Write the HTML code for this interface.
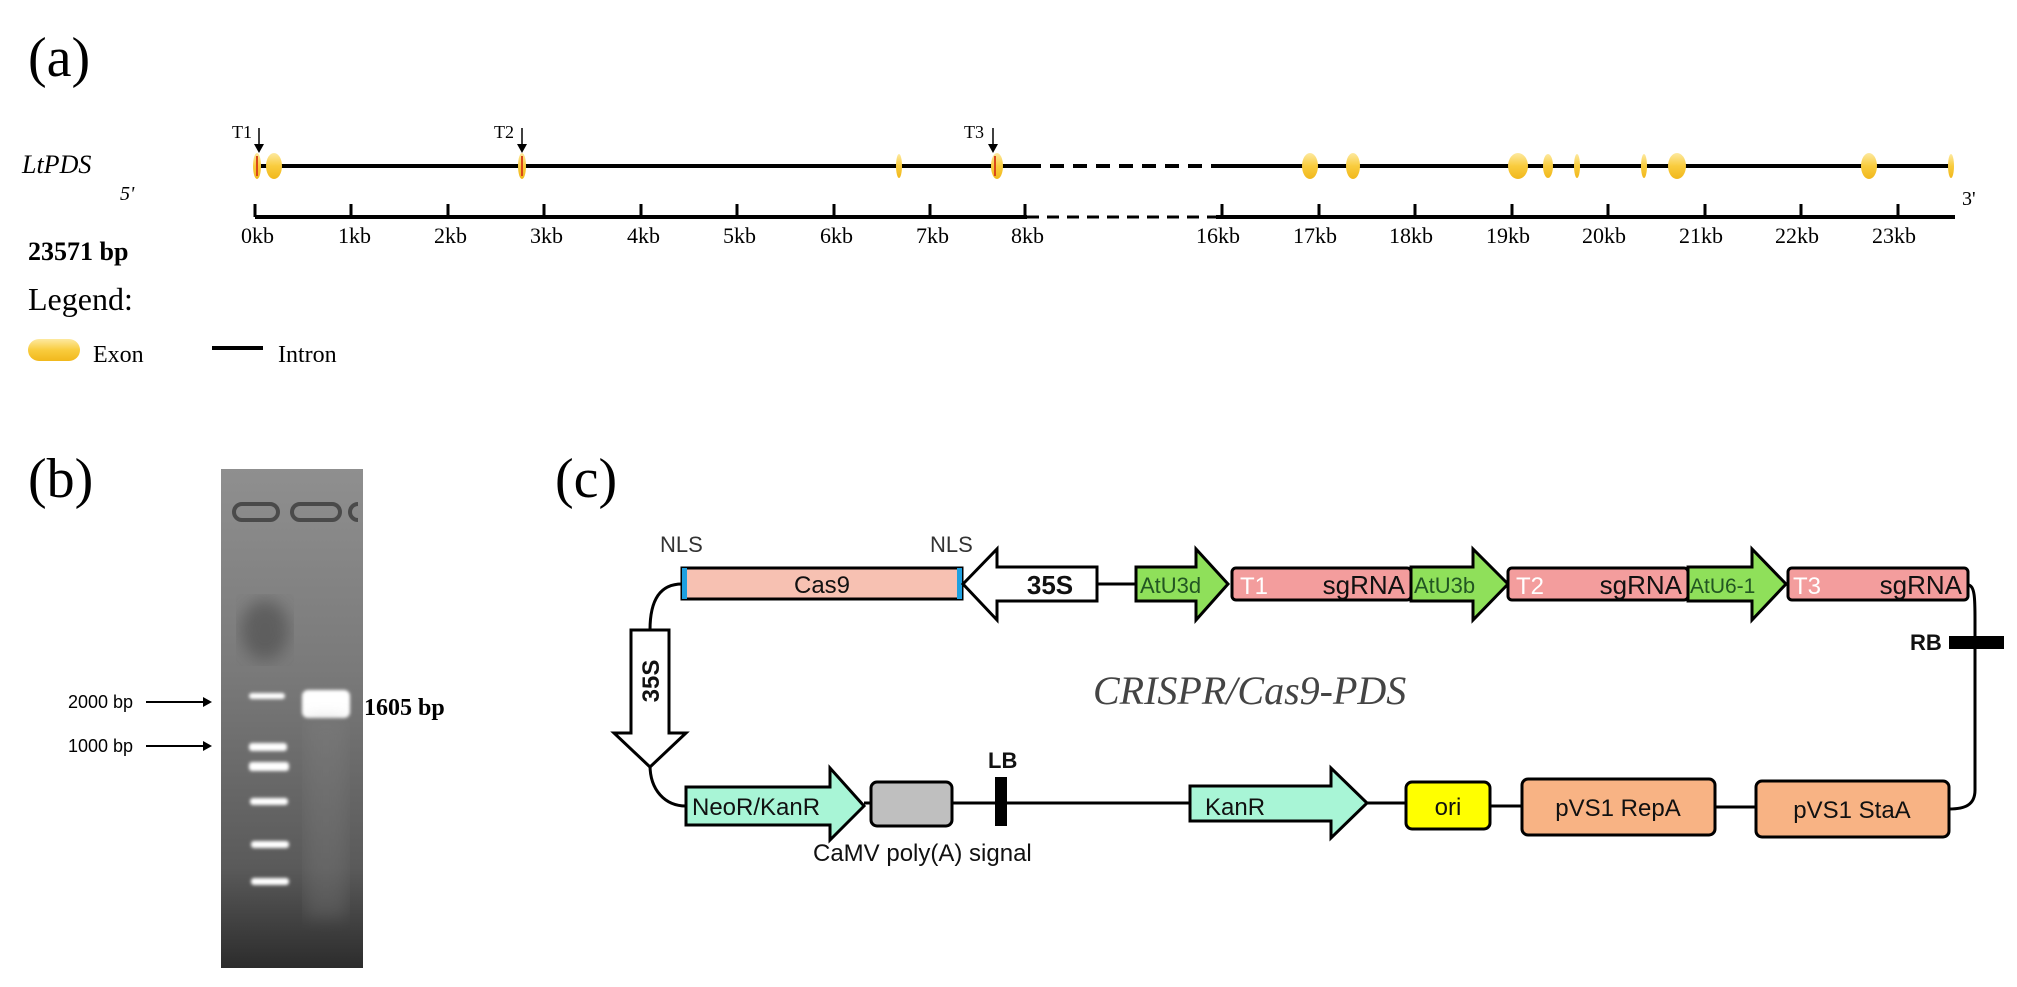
<!DOCTYPE html>
<html><head><meta charset="utf-8"><style>
html,body{margin:0;padding:0;background:#fff}
svg{display:block}
.s{font-family:"Liberation Serif",serif}
.a{font-family:"Liberation Sans",sans-serif}
</style></head><body>
<svg width="2017" height="987" viewBox="0 0 2017 987" xmlns="http://www.w3.org/2000/svg">
<defs>
<linearGradient id="ex" x1="0" y1="0" x2="0" y2="1"><stop offset="0" stop-color="#fde9a0"/><stop offset="0.5" stop-color="#f9cc3e"/><stop offset="1" stop-color="#f1b81c"/></linearGradient>
<linearGradient id="gel" x1="0" y1="0" x2="0" y2="1"><stop offset="0" stop-color="#8f8f8f"/><stop offset="0.4" stop-color="#7a7a7a"/><stop offset="0.8" stop-color="#5a5a5a"/><stop offset="1" stop-color="#2c2c2c"/></linearGradient>
<filter id="bl"><feGaussianBlur stdDeviation="1.5"/></filter>
<filter id="bl2"><feGaussianBlur stdDeviation="8"/></filter>
</defs>

<!-- (a) -->
<text x="28" y="76" class="s" font-size="56">(a)</text>
<text x="22" y="173" class="s" font-size="26" font-style="italic">LtPDS</text>
<text x="120" y="200" class="s" font-size="20" font-style="italic">5'</text>
<line x1="255" y1="166" x2="1027" y2="166" stroke="#000" stroke-width="4"/>
<line x1="1027" y1="166" x2="1216" y2="166" stroke="#000" stroke-width="4" stroke-dasharray="14,9"/>
<line x1="1216" y1="166" x2="1953" y2="166" stroke="#000" stroke-width="4"/>
<g fill="url(#ex)">
<ellipse cx="257" cy="166" rx="4" ry="13"/>
<ellipse cx="274" cy="166" rx="8" ry="13"/>
<ellipse cx="522" cy="166" rx="4" ry="13"/>
<ellipse cx="899" cy="166" rx="3" ry="12"/>
<ellipse cx="997" cy="166" rx="6" ry="13"/>
<ellipse cx="1310" cy="166" rx="8" ry="13"/>
<ellipse cx="1353" cy="166" rx="7" ry="13"/>
<ellipse cx="1518" cy="166" rx="10" ry="13"/>
<ellipse cx="1548" cy="166" rx="5" ry="12"/>
<ellipse cx="1577" cy="166" rx="3" ry="12"/>
<ellipse cx="1644" cy="166" rx="3" ry="12"/>
<ellipse cx="1677" cy="166" rx="9" ry="13"/>
<ellipse cx="1869" cy="166" rx="8" ry="13"/>
<ellipse cx="1951" cy="166" rx="3" ry="12"/>
</g>
<g stroke="#d9481a" stroke-width="2"><line x1="257" y1="156" x2="257" y2="176"/><line x1="522" y1="156" x2="522" y2="176"/><line x1="995" y1="156" x2="995" y2="176"/></g>
<g class="s" font-size="18">
<text x="232" y="138">T1</text><text x="494" y="138">T2</text><text x="964" y="138">T3</text>
</g>
<g stroke="#000" stroke-width="1.5"><line x1="259" y1="128" x2="259" y2="146"/><line x1="522" y1="128" x2="522" y2="146"/><line x1="993" y1="128" x2="993" y2="146"/></g>
<g fill="#000"><polygon points="254,144 264,144 259,153"/><polygon points="517,144 527,144 522,153"/><polygon points="988,144 998,144 993,153"/></g>

<line x1="255" y1="217" x2="1027" y2="217" stroke="#000" stroke-width="4"/>
<line x1="1027" y1="217" x2="1216" y2="217" stroke="#000" stroke-width="3" stroke-dasharray="12,8"/>
<line x1="1216" y1="217" x2="1955" y2="217" stroke="#000" stroke-width="4"/>
<g stroke="#000" stroke-width="3">
<line x1="255" y1="204" x2="255" y2="217"/><line x1="351" y1="204" x2="351" y2="217"/><line x1="448" y1="204" x2="448" y2="217"/><line x1="544" y1="204" x2="544" y2="217"/><line x1="641" y1="204" x2="641" y2="217"/><line x1="737" y1="204" x2="737" y2="217"/><line x1="834" y1="204" x2="834" y2="217"/><line x1="930" y1="204" x2="930" y2="217"/><line x1="1025" y1="204" x2="1025" y2="217"/>
<line x1="1222" y1="204" x2="1222" y2="217"/><line x1="1319" y1="204" x2="1319" y2="217"/><line x1="1415" y1="204" x2="1415" y2="217"/><line x1="1512" y1="204" x2="1512" y2="217"/><line x1="1608" y1="204" x2="1608" y2="217"/><line x1="1705" y1="204" x2="1705" y2="217"/><line x1="1801" y1="204" x2="1801" y2="217"/><line x1="1898" y1="204" x2="1898" y2="217"/>
</g>
<g class="s" font-size="22">
<text x="241" y="243">0kb</text><text x="338" y="243">1kb</text><text x="434" y="243">2kb</text><text x="530" y="243">3kb</text><text x="627" y="243">4kb</text><text x="723" y="243">5kb</text><text x="820" y="243">6kb</text><text x="916" y="243">7kb</text><text x="1011" y="243">8kb</text>
<text x="1196" y="243">16kb</text><text x="1293" y="243">17kb</text><text x="1389" y="243">18kb</text><text x="1486" y="243">19kb</text><text x="1582" y="243">20kb</text><text x="1679" y="243">21kb</text><text x="1775" y="243">22kb</text><text x="1872" y="243">23kb</text>
</g>
<text x="1962" y="205" class="s" font-size="20">3'</text>
<text x="28" y="260" class="s" font-size="26" font-weight="bold">23571 bp</text>
<text x="28" y="310" class="s" font-size="32">Legend:</text>
<rect x="28" y="339" width="52" height="22" rx="11" fill="url(#ex)"/>
<text x="93" y="362" class="s" font-size="24">Exon</text>
<line x1="212" y1="348" x2="263" y2="348" stroke="#000" stroke-width="4"/>
<text x="278" y="362" class="s" font-size="24">Intron</text>

<!-- (b) -->
<text x="28" y="497" class="s" font-size="56">(b)</text>
<rect x="221" y="469" width="142" height="499" fill="url(#gel)"/>
<ellipse cx="265" cy="630" rx="24" ry="30" fill="#4a4a4a" opacity="0.6" filter="url(#bl2)"/>
<g fill="none" stroke="#4a4a4a" stroke-width="4">
<rect x="234" y="504" width="44" height="16" rx="8"/><rect x="292" y="504" width="48" height="16" rx="8"/>
</g>
<path d="M358,504 a8,8 0 0 0 0,16" fill="none" stroke="#4a4a4a" stroke-width="4"/>
<g fill="#fff" filter="url(#bl)">
<rect x="249" y="693" width="36" height="6" rx="3"/>
<rect x="249" y="743" width="38" height="8" rx="3"/>
<rect x="249" y="762" width="40" height="9" rx="3"/>
<rect x="250" y="798" width="38" height="7" rx="3"/>
<rect x="251" y="841" width="38" height="7" rx="3"/>
<rect x="251" y="878" width="38" height="7" rx="3"/>
<rect x="302" y="690" width="48" height="28" rx="6"/>
</g>
<rect x="306" y="718" width="40" height="200" fill="#888" opacity="0.25" filter="url(#bl2)"/>
<text x="68" y="708" class="a" font-size="18">2000 bp</text>
<line x1="146" y1="702" x2="205" y2="702" stroke="#000" stroke-width="2"/><polygon points="203,697 212,702 203,707" fill="#000"/>
<text x="68" y="752" class="a" font-size="18">1000 bp</text>
<line x1="146" y1="746" x2="205" y2="746" stroke="#000" stroke-width="2"/><polygon points="203,741 212,746 203,751" fill="#000"/>
<text x="364" y="715" class="s" font-size="24" font-weight="bold">1605 bp</text>

<!-- (c) -->
<text x="555" y="497" class="s" font-size="56">(c)</text>
<g fill="none" stroke="#000" stroke-width="3">
<path d="M682,584 C660,584 650,600 650,630"/>
<path d="M650,765 C650,790 665,806 686,806"/>
<line x1="1097" y1="584" x2="1136" y2="584"/>
<path d="M1968,585 C1975,585 1975,600 1975,620 L1975,790 C1975,805 1965,809 1949,809"/>
<line x1="864" y1="803" x2="1190" y2="803"/>
<line x1="1367" y1="803" x2="1406" y2="803"/>
<line x1="1490" y1="806" x2="1522" y2="806"/>
<line x1="1715" y1="807" x2="1756" y2="807"/>
</g>
<g class="a" font-size="24" stroke-width="3" stroke="#000">
<rect x="682" y="568" width="280" height="31" fill="#f7c1b2"/>
<rect x="682" y="568" width="5" height="31" fill="#1ea0e0" stroke="none"/>
<rect x="957" y="568" width="5" height="31" fill="#1ea0e0" stroke="none"/>
<polygon points="963,584 997,549 997,567 1097,567 1097,601 997,601 997,620" fill="#fff"/>
<polygon points="1136,567 1196,567 1196,549 1228,584 1196,620 1196,601 1136,601" fill="#8fe05a"/>
<rect x="1232" y="568" width="179" height="32" rx="4" fill="#f39d9d"/>
<polygon points="1411,567 1473,567 1473,549 1508,584 1473,620 1473,601 1411,601" fill="#8fe05a"/>
<rect x="1508" y="568" width="180" height="32" rx="4" fill="#f39d9d"/>
<polygon points="1688,567 1752,567 1752,549 1786,584 1752,620 1752,601 1688,601" fill="#8fe05a"/>
<rect x="1788" y="568" width="180" height="32" rx="4" fill="#f39d9d"/>
<polygon points="631,630 669,630 669,733 686,733 650,767 614,733 631,733" fill="#fff"/>
<polygon points="686,787 830,787 830,768 864,806 830,840 830,825 686,825" fill="#a8f5d6"/>
<rect x="871" y="782" width="81" height="44" rx="6" fill="#bfbfbf"/>
<polygon points="1190,786 1331,786 1331,768 1367,803 1331,838 1331,821 1190,821" fill="#a8f5d6"/>
<rect x="1406" y="782" width="84" height="47" rx="6" fill="#ffff00"/>
<rect x="1522" y="779" width="193" height="56" rx="6" fill="#f8b384"/>
<rect x="1756" y="781" width="193" height="56" rx="6" fill="#f8b384"/>
</g>
<rect x="995" y="777" width="12" height="49" fill="#000"/>
<rect x="1949" y="636" width="55" height="13" fill="#000"/>
<g class="a" font-size="24" fill="#111">
<text x="822" y="593" text-anchor="middle">Cas9</text>
<text x="1050" y="594" text-anchor="middle" font-weight="bold" font-size="26">35S</text>
<text x="1140" y="593" font-size="22" fill="#225522">AtU3d</text>
<text x="1240" y="594" fill="#fff">T1</text><text x="1405" y="594" text-anchor="end" font-size="26">sgRNA</text>
<text x="1414" y="593" font-size="22" fill="#225522">AtU3b</text>
<text x="1516" y="594" fill="#fff">T2</text><text x="1682" y="594" text-anchor="end" font-size="26">sgRNA</text>
<text x="1690" y="593" font-size="21" fill="#225522">AtU6-1</text>
<text x="1793" y="594" fill="#fff">T3</text><text x="1962" y="594" text-anchor="end" font-size="26">sgRNA</text>
<text x="660" y="552" font-size="22" fill="#333">NLS</text>
<text x="930" y="552" font-size="22" fill="#333">NLS</text>
<text x="0" y="0" font-weight="bold" font-size="24" text-anchor="middle" transform="translate(659,681) rotate(-90)">35S</text>
<text x="692" y="815">NeoR/KanR</text>
<text x="1205" y="815">KanR</text>
<text x="1448" y="815" text-anchor="middle">ori</text>
<text x="1618" y="816" text-anchor="middle">pVS1 RepA</text>
<text x="1852" y="818" text-anchor="middle">pVS1 StaA</text>
<text x="813" y="861">CaMV poly(A) signal</text>
<text x="988" y="768" font-weight="bold" font-size="22">LB</text>
<text x="1910" y="650" font-weight="bold" font-size="22">RB</text>
</g>
<text x="1093" y="704" class="s" font-size="40" font-style="italic" fill="#444">CRISPR/Cas9-PDS</text>
</svg>
</body></html>
